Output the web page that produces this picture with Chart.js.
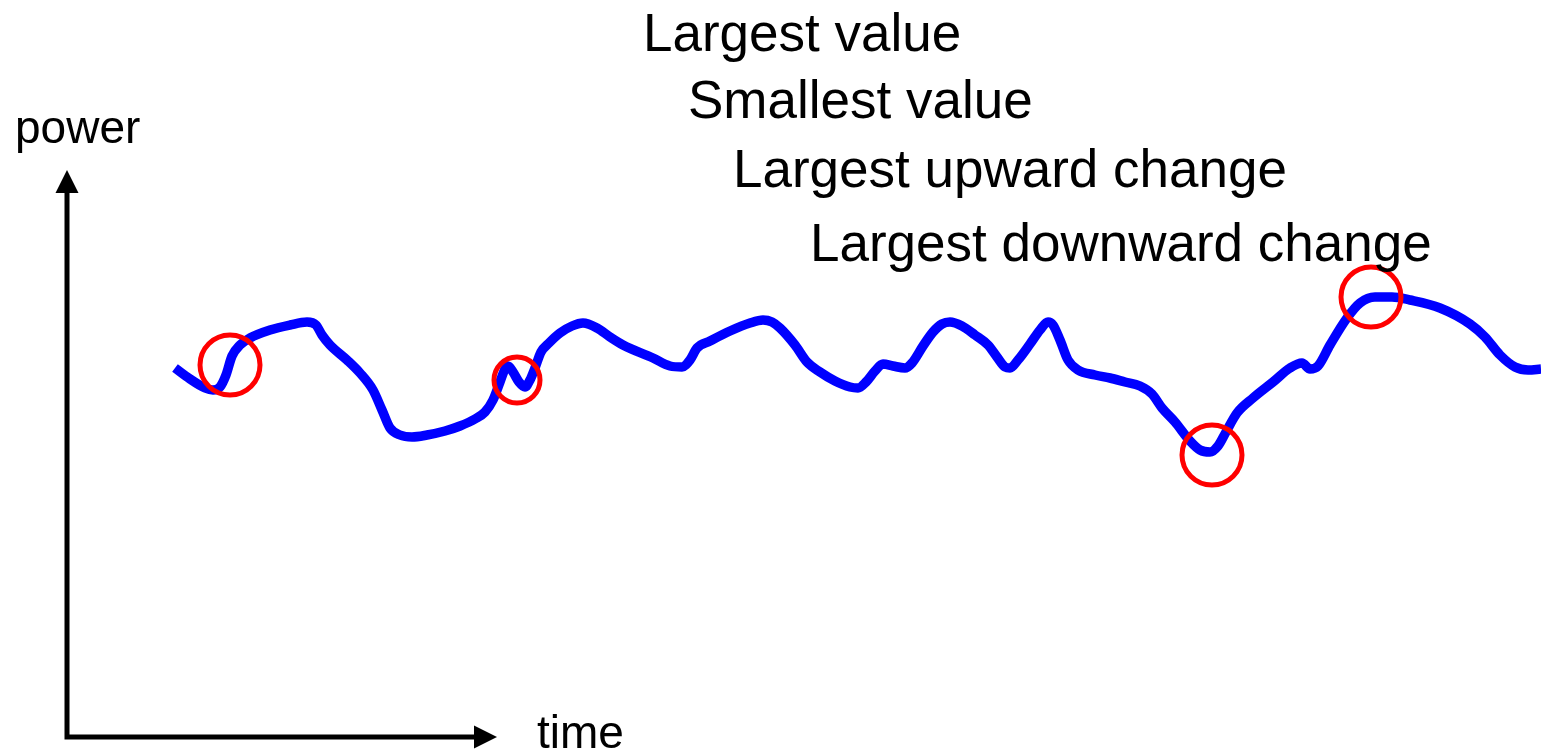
<!DOCTYPE html>
<html>
<head>
<meta charset="utf-8">
<title>power over time</title>
<script src="https://cdn.jsdelivr.net/npm/chart.js@4.4.1/dist/chart.umd.min.js"></script>
<style>
  html, body { margin: 0; padding: 0; background: #fff; overflow: hidden; }
  #wrap { position: relative; width: 1541px; height: 754px; }
</style>
</head>
<body>
<div id="wrap"><canvas id="powerChart"></canvas></div>
<script>
const times = [108, 123, 138, 146, 153, 159, 165, 173, 183, 203, 223, 240, 249, 255, 263, 280, 293, 306, 315, 323,
    333, 345, 360, 378, 393, 408, 418, 426, 433, 438, 441, 446, 452, 458, 463, 468, 474, 482, 493, 505,
    516, 530, 543, 556, 586, 603, 615, 623, 630, 643, 663, 683, 696, 705, 713, 728, 740, 753, 768, 783,
    791, 799, 808, 816, 826, 838, 845, 856, 866, 875, 883, 895, 908, 921, 930, 938, 943, 951, 963, 973,
    981, 986, 993, 1001, 1011, 1028, 1043, 1058, 1073, 1085, 1095, 1108, 1123, 1133, 1143, 1151, 1159, 1170, 1186, 1206,
    1223, 1235, 1243, 1251, 1263, 1280, 1293, 1308, 1325, 1343, 1373, 1403, 1418, 1433, 1448, 1461, 1474];
const power = [369, 358, 349, 347, 350, 362, 381, 392, 399, 407, 412, 415, 412, 402, 392, 377, 364, 347, 327, 309,
    302, 300, 302, 306, 311, 318, 325, 337, 355, 368, 371, 365, 355, 350, 357, 369, 385, 394, 404, 411,
    414, 409, 400, 392, 379, 371, 370, 377, 389, 396, 406, 414, 417, 415, 409, 392, 375, 365, 356, 350,
    349, 355, 366, 373, 371, 369, 374, 391, 405, 413, 415, 411, 402, 392, 380, 370, 369, 377, 393, 407,
    415, 412, 397, 377, 367, 362, 359, 355, 351, 343, 329, 315, 296, 287, 285, 291, 305, 324, 339, 355,
    369, 374, 368, 371, 392, 419, 434, 440, 440, 437, 429, 413, 400, 382, 370, 367, 368];

// the four highlighted spots
const markTimes = [163, 450, 1145, 1304];
const markPower = [372, 357, 282, 440];

const annotations = ['Largest value', 'Smallest value', 'Largest upward change', 'Largest downward change'];
const axisTitles = { x: 'time', y: 'power' };

const FONT = '"Liberation Sans", Arial, sans-serif';

// axes with arrow heads + the text, drawn from the chart's own scales
const diagramPlugin = {
    id: 'diagram',
    afterDraw(chart, args, opts) {
        const { ctx, scales: { x, y } } = chart;
        const ox = x.getPixelForValue(0), oy = y.getPixelForValue(0);
        const ex = x.getPixelForValue(opts.xEnd), ey = y.getPixelForValue(opts.yEnd);
        const head = 23, half = 11.5;

        ctx.save();
        ctx.strokeStyle = '#000';
        ctx.fillStyle = '#000';
        ctx.lineWidth = 5;
        ctx.lineCap = 'square';
        ctx.beginPath();
        ctx.moveTo(ox, ey + head - 2);
        ctx.lineTo(ox, oy);
        ctx.lineTo(ex - head + 2, oy);
        ctx.stroke();

        // arrow heads
        ctx.beginPath();
        ctx.moveTo(ox, ey);
        ctx.lineTo(ox - half, ey + head);
        ctx.lineTo(ox + half, ey + head);
        ctx.closePath();
        ctx.fill();
        ctx.beginPath();
        ctx.moveTo(ex, oy);
        ctx.lineTo(ex - head, oy - half);
        ctx.lineTo(ex - head, oy + half);
        ctx.closePath();
        ctx.fill();

        // labels
        ctx.textBaseline = 'alphabetic';
        ctx.textAlign = 'left';
        ctx.font = '46px ' + FONT;
        ctx.fillText(axisTitles.y, 15, 143);
        ctx.fillText(axisTitles.x, 537, 748);

        ctx.font = '53px ' + FONT;
        annotations.forEach((t, i) => {
            const p = opts.textPos[i];
            ctx.fillText(t, p[0], p[1]);
        });
        ctx.restore();
    }
};

const ctx = document.getElementById('powerChart').getContext('2d');
new Chart(ctx, {
    type: 'line',
    data: {
        datasets: [
            {
                type: 'scatter',
                data: markTimes.map((t, i) => ({ x: t, y: markPower[i] })),
                pointStyle: 'circle',
                pointRadius: [30, 23, 30, 30],
                pointHoverRadius: [30, 23, 30, 30],
                pointBorderWidth: 5,
                pointBorderColor: '#ff0000',
                pointBackgroundColor: 'rgba(0,0,0,0)',
                showLine: false,
                order: 0,
                clip: false
            },
            {
                data: times.map((t, i) => ({ x: t, y: power[i] })),
                borderColor: '#0000ff',
                borderWidth: 9.5,
                borderCapStyle: 'butt',
                borderJoinStyle: 'round',
                cubicInterpolationMode: 'monotone',
                pointRadius: 0,
                fill: false,
                order: 1,
                clip: false
            }
        ]
    },
    options: {
        responsive: true,
        maintainAspectRatio: false,
        animation: false,
        events: [],
        layout: { padding: 0, autoPadding: false },
        plugins: {
            legend: { display: false },
            tooltip: { enabled: false },
            diagram: {
                xEnd: 430,
                yEnd: 567,
                textPos: [[643, 51], [688, 118], [733, 187], [810, 261]]
            }
        },
        scales: {
            x: { type: 'linear', min: -67, max: 1474, display: false },
            y: { type: 'linear', min: -17, max: 737, display: false }
        }
    },
    plugins: [diagramPlugin]
});
</script>
</body>
</html>
